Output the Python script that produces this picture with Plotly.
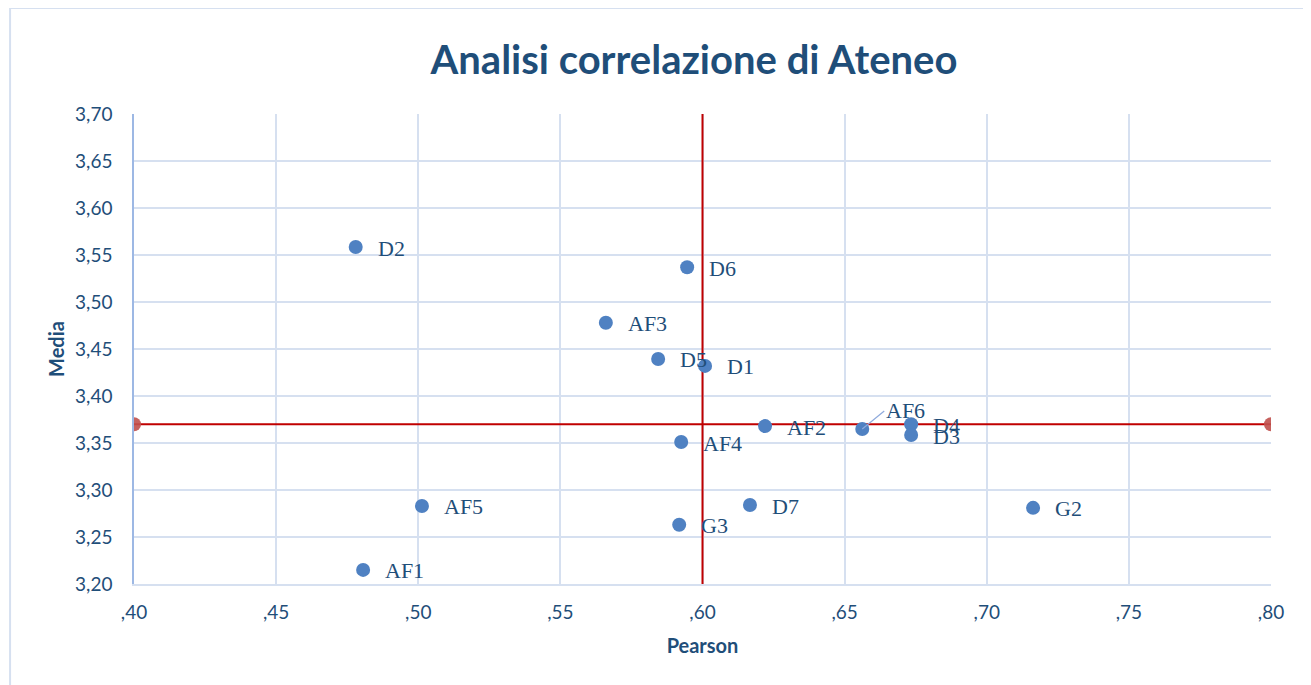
import plotly.graph_objects as go

# data
labels = ["D2", "D6", "AF3", "D5", "D1", "AF6", "D4", "D3", "AF2", "AF4",
          "AF5", "D7", "G3", "G2", "AF1"]
pearson = [0.478, 0.5946, 0.566, 0.5844, 0.6009, 0.6562, 0.6734, 0.6734,
           0.622, 0.5925, 0.5013, 0.6167, 0.5918, 0.7163, 0.4806]
media = [3.5585, 3.537, 3.478, 3.4394, 3.432, 3.3649, 3.370, 3.3585,
         3.368, 3.351, 3.283, 3.284, 3.263, 3.281, 3.215]

# reference lines (mean of media / pearson threshold)
h_line_x = [0.40, 0.80]
h_line_y = [3.37, 3.37]
v_line_x = [0.60, 0.60]
v_line_y = [3.20, 3.70]

x_ticks = [0.40, 0.45, 0.50, 0.55, 0.60, 0.65, 0.70, 0.75, 0.80]
x_ticktext = [",40", ",45", ",50", ",55", ",60", ",65", ",70", ",75", ",80"]
y_ticks = [3.20, 3.25, 3.30, 3.35, 3.40, 3.45, 3.50, 3.55, 3.60, 3.65, 3.70]
y_ticktext = ["3,20", "3,25", "3,30", "3,35", "3,40", "3,45", "3,50",
              "3,55", "3,60", "3,65", "3,70"]

navy = "#1F4E79"
grid = "#D6E0F0"

fig = go.Figure()

fig.add_trace(go.Scatter(
    x=v_line_x, y=v_line_y, mode="lines",
    line=dict(color="#C00000", width=2), hoverinfo="skip"))
fig.add_trace(go.Scatter(
    x=h_line_x, y=h_line_y, mode="lines+markers",
    line=dict(color="#C00000", width=2),
    marker=dict(color="rgba(192,80,77,0.9)", size=14), hoverinfo="skip"))
fig.add_trace(go.Scatter(
    x=pearson, y=media, mode="markers", text=labels,
    marker=dict(color="#4F81C2", size=14)))

serif = "Liberation Serif, DejaVu Serif, serif"
for lab, xv, yv in zip(labels, pearson, media):
    if lab == "AF6":
        fig.add_annotation(x=xv, y=yv, text=lab, showarrow=True, arrowhead=0,
                           arrowcolor="#8FAADC", arrowwidth=1.2,
                           ax=22, ay=-18, xanchor="left", yanchor="middle",
                           font=dict(family=serif, size=22, color=navy))
    else:
        fig.add_annotation(x=xv, y=yv, text=lab, showarrow=False,
                           xanchor="left", xshift=20, yshift=-1,
                           font=dict(family=serif, size=22, color=navy))

# outer chart border (left and top edges visible in the frame)
fig.add_shape(type="rect", xref="paper", yref="paper",
              x0=-0.109, x1=1.06, y0=-0.25, y1=1.2255,
              line=dict(color="#D6E0F0", width=2))

fig.update_layout(
    width=1303, height=677,
    margin=dict(l=126, r=40, t=106, b=101),
    paper_bgcolor="white", plot_bgcolor="white",
    showlegend=False,
    title=dict(text="<b>Analisi correlazione di Ateneo</b>",
               xref="paper", x=0.4925, xanchor="center", y=0.923, yanchor="middle",
               font=dict(family="Lato, Open Sans, sans-serif", size=40, color=navy)),
    font=dict(family="Lato, Open Sans, sans-serif", color=navy),
)
fig.update_xaxes(range=[0.40, 0.80], tickvals=x_ticks, ticktext=x_ticktext,
                 showgrid=True, gridcolor=grid, gridwidth=1.5,
                 zeroline=False, showline=True, linecolor=grid, linewidth=1.5,
                 mirror=False, ticks="", ticklabelstandoff=10,
                 tickfont=dict(size=19, color=navy),
                 title=dict(text="<b>Pearson</b>", font=dict(size=20, color=navy),
                            standoff=17))
fig.update_yaxes(range=[3.20, 3.70], tickvals=y_ticks, ticktext=y_ticktext,
                 showgrid=True, gridcolor=grid, gridwidth=1.5,
                 zeroline=False, showline=True, linecolor="#9DB8E4", linewidth=1.5,
                 ticks="", ticklabelstandoff=16,
                 tickfont=dict(size=19, color=navy),
                 title=dict(text="<b>Media</b>", font=dict(size=20, color=navy),
                            standoff=5))

fig.write_html("out.html")
